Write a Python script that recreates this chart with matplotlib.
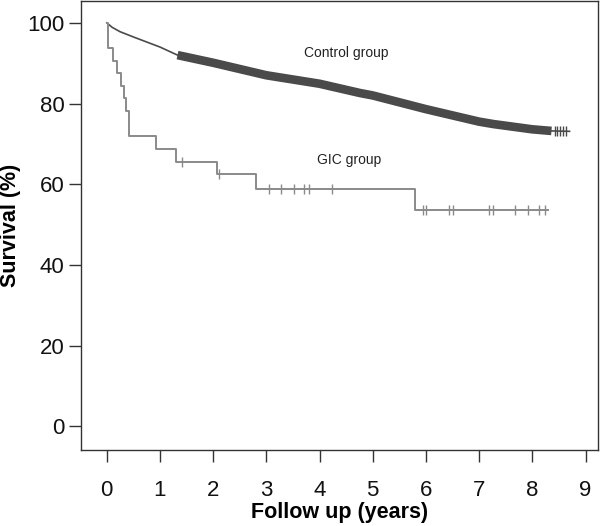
import numpy as np
import matplotlib
matplotlib.use("Agg")
import matplotlib.pyplot as plt

plt.rcParams['font.family'] = ['Liberation Sans', 'DejaVu Sans']

# Control group (smooth KM curve; thick band = dense censor marks)
ctrl_t = [0, 0.1, 0.25, 0.5, 0.8, 1.0, 1.33, 2.0, 3.0, 4.0, 4.76, 5.0, 6.0, 7.0, 7.27, 8.0, 8.36, 8.70]
ctrl_s = [100, 98.9, 97.8, 96.5, 95.0, 94.0, 92.0, 90.1, 87.0, 84.9, 82.6, 82.0, 78.6, 75.5, 74.9, 73.6, 73.2, 73.1]
ctrl_band_start = 1.33
ctrl_band_end = 8.36
ctrl_cens_t = [8.42, 8.47, 8.52, 8.58, 8.63]

# GIC group (step KM curve)
gic_t = [0, 0.02, 0.12, 0.19, 0.26, 0.33, 0.37, 0.42, 0.92, 1.30, 2.07, 2.80, 5.80, 8.30]
gic_s = [100, 93.7, 90.5, 87.5, 84.4, 81.3, 78.1, 71.9, 68.7, 65.6, 62.4, 58.8, 53.5, 53.5]
gic_cens_t = [1.41, 2.11, 3.05, 3.27, 3.52, 3.71, 3.80, 4.24, 5.95, 6.01, 6.44, 6.51,
              7.18, 7.26, 7.67, 7.92, 8.13, 8.24]

x_ticks = list(range(0, 10))
y_ticks = [0, 20, 40, 60, 80, 100]

fig = plt.figure(figsize=(6.0, 5.26), dpi=100)
ax = fig.add_axes([0.1345, 0.1445, 0.8622, 0.8535])

ctrl_col = '#4a4a4a'
gic_col = '#8a8a8a'

ct = np.array(ctrl_t); cs = np.array(ctrl_s)
ax.plot(ct, cs, color=ctrl_col, lw=1.2)
mask = (ct >= ctrl_band_start) & (ct <= ctrl_band_end)
ax.plot(ct[mask], cs[mask], color=ctrl_col, lw=6.2, solid_capstyle='butt')
ax.plot(ctrl_cens_t, np.interp(ctrl_cens_t, ct, cs), ls='none', marker='|',
        ms=7, mew=1.0, color=ctrl_col)

ax.step(gic_t, gic_s, where='post', color=gic_col, lw=1.4)
gt = np.array(gic_t); gs = np.array(gic_s)
idx = np.searchsorted(gt, gic_cens_t, side='right') - 1
ax.plot(gic_cens_t, gs[idx], ls='none', marker='|', ms=7, mew=1.0, color=gic_col)

ax.text(4.51, 92.6, 'Control group', ha='center', va='center', fontsize=10, color='#222222')
ax.text(4.55, 66.0, 'GIC group', ha='center', va='center', fontsize=10, color='#222222')

ax.set_xlim(-0.49, 9.235)
ax.set_ylim(-5.9, 105.4)
ax.set_xticks(x_ticks)
ax.set_yticks(y_ticks)
ax.tick_params(axis='both', length=8.6, width=1.0, color='#333333', labelsize=16,
               labelcolor='#111111')
ax.tick_params(axis='y', pad=3)
ax.tick_params(axis='x', pad=13)
for s in ax.spines.values():
    s.set_color('#333333')
    s.set_linewidth(1.0)

ax.set_xlabel('Follow up (years)', fontsize=15.5, fontweight='bold', labelpad=1)
ax.yaxis.set_label_coords(-0.115, 0.5)
ax.set_ylabel('Survival (%)', fontsize=15.5, fontweight='bold')

fig.savefig('out.png', dpi=100)
